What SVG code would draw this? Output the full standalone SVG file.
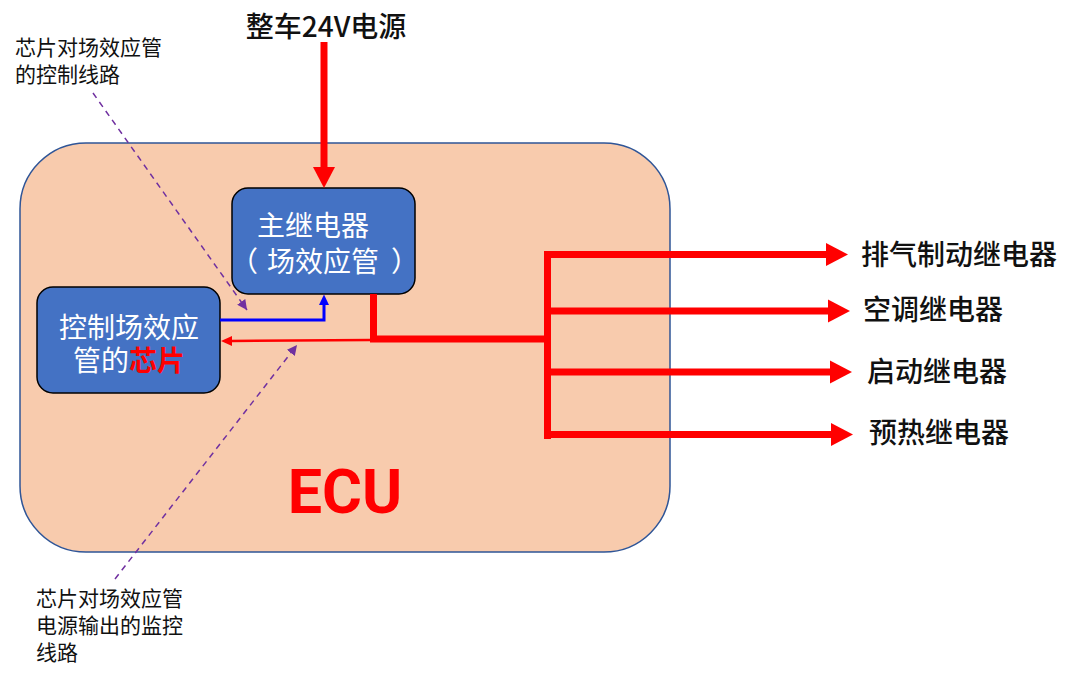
<svg xmlns="http://www.w3.org/2000/svg" width="1080" height="679" viewBox="0 0 1080 679">
<style>
.cjk{font-family:"Noto Sans CJK SC","Liberation Sans",sans-serif}
.lbl{font-size:28px;font-weight:500;fill:#111}
.note{font-size:21px;fill:#111}
.node{fill:#4472C4;stroke:#000;stroke-width:1.5}
.wt{font-size:28px;fill:#fff}
.thick{stroke:#FF0000;stroke-width:7;fill:none}
.dash{stroke:#7030A0;stroke-width:1.5;stroke-dasharray:6 5;fill:none}
</style>
<defs>
<marker id="pa" viewBox="0 0 10 10" refX="10" refY="5" markerWidth="10" markerHeight="10" markerUnits="userSpaceOnUse" orient="auto"><path d="M0,0 L10,5 L0,10 Z" fill="#7030A0"/></marker>
</defs>
<rect width="1080" height="679" fill="#fff"/>
<g id="ecu">
<rect x="20" y="143" width="650" height="409" rx="66" ry="66" fill="#F8CBAD" stroke="#2F5597" stroke-width="1.5"/>
<text x="345" y="513" font-family="Roboto,'Liberation Sans',sans-serif" font-weight="bold" font-size="61" fill="#FF0000" text-anchor="middle">ECU</text>
</g>
<g id="title"><text class="cjk lbl" x="326" y="37" text-anchor="middle">整车24V电源</text></g>
<g id="main-relay">
<rect class="node" x="232" y="188" width="183" height="106" rx="16"/>
<text class="cjk wt" x="313" y="236" text-anchor="middle" font-size="27">主继电器</text>
<text class="cjk wt" y="272" font-size="27"><tspan x="230">（</tspan><tspan x="267">场效应管</tspan><tspan x="391">）</tspan></text>
</g>
<g id="chip">
<rect class="node" x="37" y="287" width="183" height="106" rx="16"/>
<text class="cjk wt" x="129" y="338" text-anchor="middle" font-size="29">控制场效应</text>
<text class="cjk wt" x="129" y="371" text-anchor="middle" font-size="29">管的<tspan fill="#FF0000" font-weight="bold">芯片</tspan></text>
</g>
<g id="outputs">
<text class="cjk lbl" x="861" y="265">排气制动继电器</text>
<text class="cjk lbl" x="863" y="320">空调继电器</text>
<text class="cjk lbl" x="867" y="382">启动继电器</text>
<text class="cjk lbl" x="869" y="443">预热继电器</text>
</g>
<g id="notes">
<text class="cjk note" x="15" y="55">芯片对场效应管</text>
<text class="cjk note" x="15" y="82">的控制线路</text>
<text class="cjk note" x="36" y="606">芯片对场效应管</text>
<text class="cjk note" x="36" y="633">电源输出的监控</text>
<text class="cjk note" x="36" y="660">线路</text>
</g>
<g id="connectors">
<line class="thick" x1="324" y1="42" x2="324" y2="168"/>
<path d="M313,167 L335,167 L324,188 Z" fill="#FF0000"/>
<polyline class="thick" points="373.5,294 373.5,339 547.5,339"/>
<line class="thick" x1="547.5" y1="251" x2="547.5" y2="439"/>
<line class="thick" x1="544" y1="254.5" x2="827" y2="254.5"/>
<path d="M826,243 L848,254.5 L826,266 Z" fill="#FF0000"/>
<line class="thick" x1="544" y1="311" x2="829" y2="311"/>
<path d="M828,299.5 L850,311 L828,322.5 Z" fill="#FF0000"/>
<line class="thick" x1="544" y1="372" x2="831" y2="372"/>
<path d="M830,360.5 L852,372 L830,383.5 Z" fill="#FF0000"/>
<line class="thick" x1="544" y1="434.5" x2="832" y2="434.5"/>
<path d="M831,423 L853,434.5 L831,446 Z" fill="#FF0000"/>
<polyline points="220,320 324,320 324,304" fill="none" stroke="#0000FF" stroke-width="3"/>
<path d="M319,305 L329,305 L324,294.5 Z" fill="#0000FF"/>
<line x1="371" y1="340" x2="231" y2="341" stroke="#FF0000" stroke-width="2.5"/>
<path d="M232,336 L232,346 L221,341 Z" fill="#FF0000"/>
<line class="dash" x1="93" y1="93" x2="247" y2="310" marker-end="url(#pa)"/>
<line class="dash" x1="115" y1="579" x2="297" y2="345" marker-end="url(#pa)"/>
</g>
</svg>
